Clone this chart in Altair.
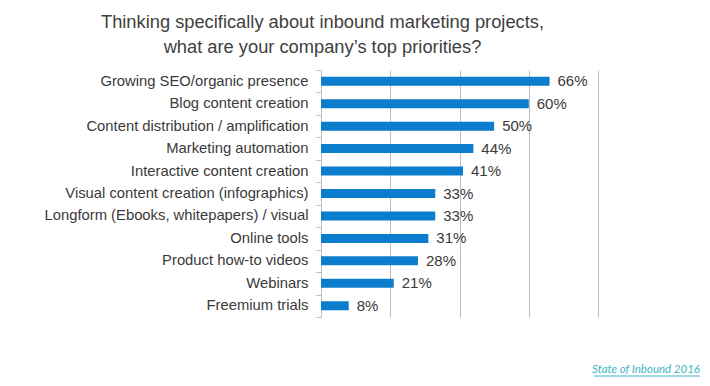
import altair as alt
import pandas as pd

categories = [
    "Growing SEO/organic presence",
    "Blog content creation",
    "Content distribution / amplification",
    "Marketing automation",
    "Interactive content creation",
    "Visual content creation (infographics)",
    "Longform (Ebooks, whitepapers) / visual",
    "Online tools",
    "Product how-to videos",
    "Webinars",
    "Freemium trials",
]
values = [66, 60, 50, 44, 41, 33, 33, 31, 28, 21, 8]
grid_ticks = [0, 20, 40, 60, 80]
title_lines = [
    "Thinking specifically about inbound marketing projects,",
    "what are your company\u2019s top priorities?",
]
source_text = ["State of Inbound 2016"]

df = pd.DataFrame({"category": categories, "value": values})
df["label"] = [f"{v}%" for v in values]

FONT = "Liberation Sans"

y_enc = alt.Y(
    "category:N",
    sort=categories,
    scale=alt.Scale(paddingInner=0, paddingOuter=0),
    axis=alt.Axis(
        title=None,
        labelFont=FONT,
        labelFontSize=14.8,
        labelColor="#3a3a3a",
        labelPadding=8,
        labelLimit=0,
        tickBand="extent",
        tickSize=5,
        tickColor="#bfbfbf",
        domainColor="#bfbfbf",
        grid=False,
    ),
)
x_enc = alt.X(
    "value:Q",
    scale=alt.Scale(domain=[0, 80]),
    axis=alt.Axis(
        title=None,
        values=grid_ticks,
        labels=False,
        ticks=False,
        domain=False,
        grid=True,
        gridColor="#bdbdbd",
        gridWidth=1,
    ),
)

base = alt.Chart(df)
bars = base.mark_bar(color="#0b7dcc", size=9).encode(x=x_enc, y=y_enc)
labels = base.mark_text(
    align="left", baseline="middle", dx=8, font=FONT, fontSize=15, color="#3a3a3a"
).encode(x="value:Q", y=alt.Y("category:N", sort=categories), text="label:N")

src_df = pd.DataFrame({"t": source_text})
source = alt.Chart(src_df).mark_text(
    align="right", baseline="middle", font="Lato", fontStyle="italic",
    fontSize=11.5, color="#3cb4c6",
).encode(x=alt.value(379), y=alt.value(300), text="t:N")
underline = alt.Chart(src_df).mark_rule(color="#3cb4c6", strokeWidth=1).encode(
    x=alt.value(273), x2=alt.value(379), y=alt.value(306)
)

chart = (
    alt.layer(bars, labels, source, underline)
    .properties(
        width=277,
        height=247,
        autosize=alt.AutoSizeParams(type="none"),
        padding={"left": 313, "top": 62, "right": 104, "bottom": 61},
        title=alt.TitleParams(
            title_lines,
            font=FONT,
            fontSize=18.3,
            fontWeight="normal",
            color="#404040",
            anchor="middle",
            dx=-137,
            offset=5,
            lineHeight=25,
        ),
    )
    .configure_view(stroke=None)
)

chart.save("out.html", embed_options={"renderer": "svg", "actions": False})
